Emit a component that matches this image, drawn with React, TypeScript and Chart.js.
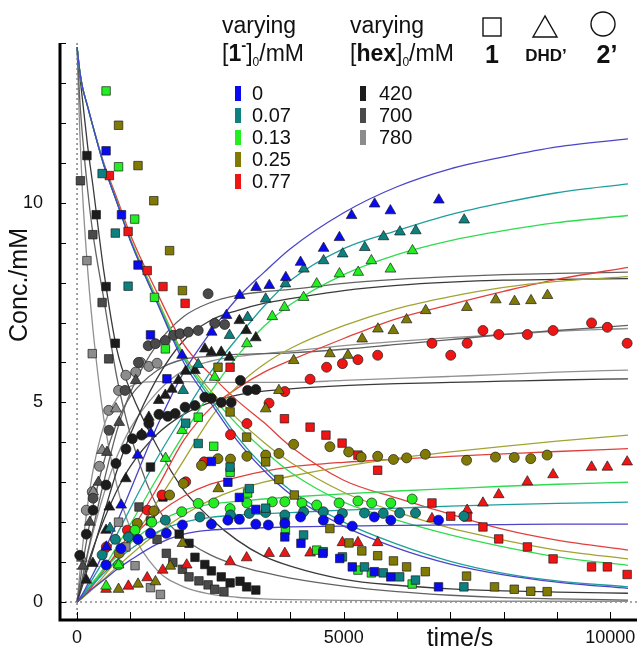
import { useEffect, useRef } from "react";
import { Chart, registerables } from "chart.js";
Chart.register(...registerables);

const FONT = '"Liberation Sans", Arial, Helvetica, sans-serif';

// ---------- axes ----------
const X_MIN = -320;
const X_MAX = 10500;
const Y_MIN = -0.45;
const Y_MAX = 14;
const X_TICKS = [0, 1000, 2000, 3000, 4000, 5000, 6000, 7000, 8000, 9000, 10000];
const X_LABELS = ["0", "5000", "10000"];
const X_LABEL_VALUES = [0, 5000, 10000];
const Y_TICKS = [0, 1, 2, 3, 4, 5, 6, 7, 8, 9, 10, 11, 12, 13, 14];
const Y_LABELS = ["0", "5", "10"];
const Y_LABEL_VALUES = [0, 5, 10];

// ---------- legend ----------
const CONC1_LABELS = ["0", "0.07", "0.13", "0.25", "0.77"];
const HEX_LABELS = ["420", "700", "780"];

// ---------- fitted curves (sampled at CURVE_T) ----------
const CURVE_T = [0, 50, 100, 200, 300, 500, 750, 1000, 1500, 2000, 2500, 3000, 3500, 4000, 5000, 6000, 7000, 8000, 9000, 10330];

const blueDecay = [13.9, 13.3, 12.9, 12.4, 11.9, 10.95, 10.0, 9.05, 7.5, 6.0, 5.0, 4.05, 3.3, 2.7, 1.9, 1.35, 0.95, 0.68, 0.5, 0.34];
const tealDecay = [13.9, 13.3, 12.9, 12.4, 11.9, 10.95, 10.0, 9.05, 7.5, 6.1, 5.1, 4.15, 3.4, 2.8, 2.0, 1.45, 1.02, 0.72, 0.53, 0.38];
const greenDecay = [13.9, 13.3, 12.9, 12.4, 11.9, 10.95, 10.0, 9.07, 7.55, 6.15, 5.2, 4.45, 3.8, 3.25, 2.5, 2.05, 1.68, 1.38, 1.13, 0.92];
const oliveDecay = [13.9, 13.3, 12.9, 12.4, 11.9, 10.97, 10.03, 9.1, 7.6, 6.2, 5.3, 4.6, 4.0, 3.5, 2.75, 2.25, 1.85, 1.55, 1.3, 1.08];
const redDecay = [13.9, 13.3, 12.9, 12.4, 11.9, 11.0, 10.1, 9.2, 7.75, 6.45, 5.7, 5.05, 4.5, 3.9, 3.05, 2.6, 2.2, 1.82, 1.55, 1.3];
const g420Decay = [13.9, 13.2, 12.6, 11.4, 10.4, 8.3, 6.3, 5.3, 3.9, 2.8, 2.1, 1.55, 1.15, 0.9, 0.57, 0.42, 0.33, 0.28, 0.25, 0.22];
const g700Decay = [13.9, 12.6, 11.7, 10.3, 9.2, 7.6, 5.6, 4.2, 2.4, 1.6, 1.18, 0.92, 0.74, 0.6, 0.4, 0.26, 0.17, 0.11, 0.08, 0.05];
const g780Decay = [13.9, 11.8, 10.3, 8.3, 6.8, 4.6, 2.9, 1.85, 0.8, 0.38, 0.2, 0.12, 0.08, 0.06, 0.04, 0.03, 0.02, 0.02, 0.02, 0.02];

const blueDHD = [0, 0.1, 0.2, 0.45, 0.7, 1.25, 2.0, 2.8, 4.4, 5.75, 6.75, 7.6, 8.25, 8.85, 9.75, 10.4, 10.85, 11.15, 11.4, 11.6];
const tealDHD = [0, 0.08, 0.17, 0.38, 0.6, 1.05, 1.7, 2.35, 3.6, 4.7, 5.75, 6.6, 7.4, 8.05, 8.85, 9.3, 9.7, 10.0, 10.25, 10.47];
const greenDHD = [0, 0.07, 0.15, 0.32, 0.5, 0.85, 1.4, 1.95, 3.1, 4.2, 5.25, 6.15, 6.9, 7.45, 8.2, 8.7, 9.05, 9.3, 9.5, 9.68];
const oliveDHD = [0, 0.05, 0.1, 0.22, 0.35, 0.65, 1.05, 1.5, 2.5, 3.55, 4.6, 5.4, 5.95, 6.35, 6.92, 7.35, 7.65, 7.88, 8.03, 8.15];
const redDHD = [0, 0.06, 0.12, 0.26, 0.42, 0.78, 1.25, 1.75, 2.85, 4.05, 4.85, 5.35, 5.75, 6.05, 6.6, 7.1, 7.45, 7.78, 8.08, 8.38];
const g420DHD = [0, 0.2, 0.4, 0.85, 1.3, 2.2, 3.3, 4.2, 5.6, 6.55, 7.05, 7.3, 7.48, 7.6, 7.8, 7.93, 8.01, 8.06, 8.08, 8.1];
const g700DHD = [0, 0.3, 0.6, 1.25, 1.85, 3.0, 4.3, 5.25, 6.45, 7.15, 7.5, 7.68, 7.77, 7.83, 7.98, 8.08, 8.15, 8.2, 8.23, 8.26];
const g780DHD = [0, 0.3, 0.6, 1.2, 1.75, 2.7, 3.65, 4.35, 5.25, 5.8, 6.03, 6.15, 6.22, 6.28, 6.42, 6.53, 6.62, 6.7, 6.78, 6.85];

const blueTwo = [0, 0.06, 0.12, 0.24, 0.35, 0.55, 0.82, 1.05, 1.45, 1.7, 1.8, 1.84, 1.86, 1.88, 1.9, 1.92, 1.93, 1.94, 1.95, 1.95];
const tealTwo = [0, 0.08, 0.16, 0.3, 0.45, 0.72, 1.05, 1.32, 1.75, 2.0, 2.12, 2.18, 2.21, 2.24, 2.3, 2.35, 2.4, 2.44, 2.47, 2.5];
const greenTwo = [0, 0.08, 0.17, 0.33, 0.5, 0.8, 1.15, 1.48, 1.98, 2.3, 2.45, 2.52, 2.58, 2.63, 2.71, 2.78, 2.84, 2.9, 2.95, 3.0];
const oliveTwo = [0, 0.05, 0.1, 0.22, 0.33, 0.57, 0.88, 1.18, 1.72, 2.18, 2.55, 2.82, 3.0, 3.15, 3.4, 3.6, 3.76, 3.9, 4.03, 4.18];
const redTwo = [0, 0.08, 0.16, 0.32, 0.48, 0.8, 1.2, 1.58, 2.2, 2.65, 2.95, 3.12, 3.27, 3.38, 3.5, 3.58, 3.65, 3.71, 3.77, 3.84];
const g420Two = [0, 0.25, 0.5, 0.95, 1.35, 2.05, 2.8, 3.4, 4.2, 4.7, 5.0, 5.18, 5.28, 5.34, 5.42, 5.47, 5.5, 5.53, 5.56, 5.59];
const g700Two = [0, 0.45, 0.9, 1.7, 2.4, 3.5, 4.5, 5.15, 5.8, 6.08, 6.15, 6.2, 6.22, 6.24, 6.33, 6.45, 6.57, 6.7, 6.8, 6.93];
const g780Two = [0, 0.7, 1.35, 2.45, 3.3, 4.4, 5.1, 5.4, 5.52, 5.52, 5.5, 5.5, 5.5, 5.5, 5.55, 5.6, 5.65, 5.7, 5.76, 5.81];

// ---------- measured points [time/s, conc/mM] ----------
// species 1 (squares)
const blueSq = [[544, 11.3], [833, 9.7], [1143, 8.44], [1377, 6.69], [1685, 5.59], [2519, 3.52], [2828, 3.0], [3044, 2.62], [3352, 2.32], [3896, 1.63], [4198, 1.47], [4607, 1.22], [4926, 1.09], [5161, 0.88], [5574, 0.76], [5883, 0.63], [6778, 0.38]];
const tealSq = [[470, 10.73], [717, 9.24], [957, 7.91], [2037, 4.48], [2272, 3.97], [2870, 3.38], [3230, 2.84], [3537, 2.35], [3896, 2.0], [4248, 1.68], [4618, 1.26], [4976, 1.13], [5389, 0.88], [5741, 0.73], [6050, 0.63], [6346, 0.55], [7254, 0.38]];
const greenSq = [[544, 12.8], [778, 10.9], [1081, 9.59], [1452, 7.63], [1655, 6.34], [2272, 4.63], [2563, 3.9], [2870, 3.25], [3198, 2.73], [3907, 1.8], [4494, 1.3], [5267, 0.8], [5519, 0.73], [6284, 0.45]];
const oliveSq = [[778, 11.94], [1143, 10.93], [1439, 10.05], [1735, 8.8], [1976, 7.8], [2643, 5.88], [2870, 4.76], [3180, 4.13], [3537, 3.51], [3785, 3.07], [4074, 2.68], [4741, 1.84], [5100, 1.48], [5340, 1.28], [5637, 1.16], [5933, 1.03], [6180, 0.88], [6531, 0.76], [7304, 0.65], [7828, 0.38], [8198, 0.32], [8507, 0.27], [8815, 0.26]];
const redSq = [[606, 10.68], [957, 9.28], [1315, 8.3], [1611, 7.9], [2026, 7.48], [2870, 5.88], [3889, 4.59], [4370, 4.38], [4667, 4.18], [4970, 3.98], [5267, 3.68], [5637, 3.3], [6655, 2.48], [7007, 2.15], [7315, 2.13], [7611, 1.88], [7907, 1.58], [8444, 1.38], [8926, 1.08], [9648, 0.88], [9944, 0.88], [10315, 0.69]];
const g420Sq = [[185, 11.18], [359, 9.7], [544, 7.9], [717, 6.48], [1377, 3.38], [1611, 2.63], [1915, 1.7], [2099, 1.47], [2211, 1.12], [2396, 0.94], [2519, 0.78], [2704, 0.63], [2870, 0.48], [3056, 0.52], [3180, 0.38], [3352, 0.3]];
const g700Sq = [[63, 10.55], [296, 9.2], [470, 7.5], [593, 6.09], [1161, 2.38], [1377, 2.03], [1500, 1.57], [1674, 1.22], [1796, 0.99], [1976, 0.82], [2099, 0.63], [2285, 0.53], [2457, 0.43], [2581, 0.32], [2754, 0.26]];
const g780Sq = [[185, 8.55], [285, 6.22], [778, 2.0], [915, 1.38], [1087, 0.91], [1377, 0.36], [1563, 0.19]];

// species DHD' (triangles)
const blueTri = [[549, 1.38], [827, 2.43], [1136, 3.68], [1383, 4.22], [1969, 6.18], [2525, 6.76], [2802, 7.18], [3050, 7.68], [3358, 7.88], [3605, 7.93], [3914, 8.13], [4191, 8.51], [4623, 8.86], [4920, 9.13], [5148, 9.68], [5580, 9.97], [5876, 9.8], [6784, 10.07]];
const tealTri = [[617, 1.85], [1990, 5.3], [2272, 5.95], [2859, 6.68], [3198, 7.13], [3537, 7.59], [3907, 7.97], [4253, 8.34], [4623, 8.55], [4981, 8.72], [5395, 8.88], [5747, 9.15], [6055, 9.27], [6352, 9.3], [7259, 9.57]];
const greenTri = [[544, 0.4], [778, 0.93], [1660, 3.6], [1969, 4.3], [2581, 5.63], [3185, 6.47], [3661, 7.15], [3889, 7.38], [4248, 7.63], [4494, 7.97], [4920, 8.22], [5272, 8.26], [5519, 8.55], [5877, 8.34], [6290, 8.8]];
const oliveTri = [[778, 0.32], [1143, 0.45], [1470, 0.51], [1748, 0.9], [1976, 1.47], [2648, 2.84], [3537, 4.84], [3785, 5.3], [4062, 6.05], [4741, 6.22], [5080, 6.18], [5346, 6.59], [5642, 6.84], [5932, 6.8], [6179, 7.07], [6537, 7.3], [7309, 7.38], [7852, 7.57], [8204, 7.53], [8512, 7.55], [8821, 7.68]];
const redTri = [[544, 0.32], [963, 0.4], [1315, 0.61], [1606, 0.8], [2056, 0.93], [2870, 1.01], [3180, 1.11], [3600, 1.22], [3896, 1.22], [4370, 1.23], [4976, 1.49], [5267, 1.49], [5637, 1.49], [6655, 2.09], [7315, 2.3], [7611, 2.48], [7907, 2.69], [8444, 3.01], [8926, 3.19], [9648, 3.38], [9944, 3.38], [10315, 3.51]];
const g420Tri = [[173, 0.55], [296, 0.97], [544, 1.8], [605, 2.38], [915, 3.09], [1213, 4.2], [1346, 4.63], [1531, 5.05], [1655, 5.18], [1778, 5.33], [1902, 5.55], [2037, 5.78], [2211, 5.8], [2396, 6.34], [2519, 6.25], [2704, 6.26], [2859, 6.13], [3044, 7.05], [3172, 6.8], [3352, 6.62]];
const g700Tri = [[110, 0.9], [240, 2.0], [400, 3.0], [560, 3.75], [790, 4.5], [1100, 5.55]];
const g780Tri = [[90, 1.1], [302, 2.76], [470, 3.8], [729, 4.84]];

// species 2' (circles)
const blueCirc = [[544, 0.93], [822, 1.34], [1143, 1.57], [1377, 1.72], [1674, 1.72], [1976, 1.93], [2519, 1.95], [2828, 2.05], [3044, 2.07], [3352, 1.95], [3587, 1.93], [3896, 1.97], [4191, 2.13], [4618, 2.05], [4914, 2.07], [5161, 1.9], [5574, 2.13], [5883, 2.05], [6778, 2.05]];
const tealCirc = [[470, 1.18], [717, 1.57], [963, 1.63], [1655, 2.05], [2303, 2.13], [2877, 2.18], [3230, 2.22], [3537, 2.24], [3896, 2.18], [4248, 2.26], [4618, 2.26], [4976, 2.22], [5389, 2.23], [5741, 2.22], [6050, 2.23], [6346, 2.23], [7254, 2.15]];
const greenCirc = [[778, 0.93], [1087, 1.8], [1400, 2.0], [1963, 2.26], [2272, 2.47], [2563, 2.48], [2870, 2.34], [3185, 2.48], [3661, 2.51], [3896, 2.51], [4217, 2.48], [4494, 2.43], [4914, 2.48], [5267, 2.53], [5525, 2.48], [5883, 2.48], [6284, 2.58]];
const oliveCirc = [[790, 1.22], [1130, 1.97], [1439, 2.28], [1735, 2.68], [1994, 2.97], [2333, 3.42], [2642, 3.59], [2877, 3.58], [3185, 3.65], [3537, 3.68], [3785, 3.72], [4062, 3.95], [4741, 3.89], [5093, 3.76], [5328, 3.63], [5637, 3.65], [5933, 3.57], [6180, 3.61], [6531, 3.7], [7304, 3.55], [7846, 3.63], [8198, 3.62], [8507, 3.59], [8815, 3.68]];
const redCirc = [[549, 1.38], [944, 1.8], [1320, 2.3], [1593, 2.68], [2037, 3.01], [2383, 3.51], [2877, 4.19], [3185, 4.47], [3600, 4.98], [3896, 5.27], [4370, 5.58], [4679, 5.88], [4976, 5.97], [5267, 6.07], [5637, 6.18], [6655, 6.48], [7007, 6.18], [7315, 6.48], [7611, 6.8], [7907, 6.7], [8444, 6.7], [8926, 6.8], [9648, 6.99], [9944, 6.88], [10315, 6.48]];
const g420Circ = [[50, 1.17], [173, 1.7], [300, 2.3], [544, 2.93], [729, 3.47], [917, 3.83], [1037, 4.09], [1211, 4.18], [1346, 4.47], [1535, 4.7], [1700, 4.65], [1840, 4.72], [2026, 4.88], [2211, 4.92], [2396, 5.13], [2519, 5.1], [2704, 5.0], [2890, 5.0], [3063, 5.55], [3198, 5.3], [3352, 5.32]];
const g700Circ = [[300, 2.6], [600, 4.3], [900, 5.3], [1150, 6.0], [1334, 6.42], [1470, 6.47], [1655, 6.55], [1809, 6.68], [1932, 6.72], [2087, 6.76], [2272, 6.8], [2457, 7.72], [2581, 6.98], [2767, 6.95]];
const g780Circ = [[173, 2.3], [285, 2.76], [420, 3.4], [593, 4.8], [778, 5.3], [915, 5.68], [1100, 5.76], [1192, 6.0], [1346, 5.9], [1500, 5.98]];

// ---------- groups (built from the arrays above) ----------
const GROUPS = [
  { fill: "#0a0af0", line: "#4a44c8", sq: blueSq, tri: blueTri, circ: blueCirc, c1: blueDecay, dhd: blueDHD, two: blueTwo },
  { fill: "#0d8080", line: "#1f9e9e", sq: tealSq, tri: tealTri, circ: tealCirc, c1: tealDecay, dhd: tealDHD, two: tealTwo },
  { fill: "#22ee22", line: "#2fdc50", sq: greenSq, tri: greenTri, circ: greenCirc, c1: greenDecay, dhd: greenDHD, two: greenTwo },
  { fill: "#807a05", line: "#a3a332", sq: oliveSq, tri: oliveTri, circ: oliveCirc, c1: oliveDecay, dhd: oliveDHD, two: oliveTwo },
  { fill: "#f01515", line: "#e0403c", sq: redSq, tri: redTri, circ: redCirc, c1: redDecay, dhd: redDHD, two: redTwo },
  { fill: "#1c1c1c", line: "#3a3a3a", sq: g420Sq, tri: g420Tri, circ: g420Circ, c1: g420Decay, dhd: g420DHD, two: g420Two },
  { fill: "#4a4a4a", line: "#626262", sq: g700Sq, tri: g700Tri, circ: g700Circ, c1: g700Decay, dhd: g700DHD, two: g700Two },
  { fill: "#8c8c8c", line: "#909090", sq: g780Sq, tri: g780Tri, circ: g780Circ, c1: g780Decay, dhd: g780DHD, two: g780Two },
];

function curveData(vals: number[]) {
  return CURVE_T.map((t, i) => ({ x: t, y: vals[i] }));
}
function ptData(arr: number[][]) {
  return arr.map(([x, y]) => ({ x, y }));
}

function buildDatasets() {
  const ds: any[] = [];
  for (const g of GROUPS) {
    for (const vals of [g.c1, g.dhd, g.two]) {
      ds.push({
        type: "line",
        data: curveData(vals),
        borderColor: g.line,
        borderWidth: 1.3,
        pointRadius: 0,
        fill: false,
        cubicInterpolationMode: "monotone",
        order: 2,
      });
    }
  }
  for (const g of GROUPS) {
    const common = {
      type: "scatter",
      backgroundColor: g.fill,
      borderColor: "rgba(25,25,25,0.85)",
      borderWidth: 0.8,
      order: 1,
    };
    ds.push({ ...common, data: ptData(g.sq), pointStyle: "rect", pointRadius: 6 });
    ds.push({ ...common, data: ptData(g.tri), pointStyle: "triangle", pointRadius: 6.2 });
    ds.push({ ...common, data: ptData(g.circ), pointStyle: "circle", pointRadius: 5 });
  }
  return ds;
}

type Run = { t: string; s?: number; b?: boolean; dy?: number };
function drawRuns(ctx: CanvasRenderingContext2D, runs: Run[], x: number, y: number) {
  let cx = x;
  for (const r of runs) {
    ctx.font = `${r.b ? "bold " : ""}${r.s ?? 23}px ${FONT}`;
    ctx.fillText(r.t, cx, y + (r.dy ?? 0));
    cx += ctx.measureText(r.t).width;
  }
}

const decor = {
  id: "decor",
  beforeDatasetsDraw(chart: any) {
    const { ctx, chartArea, scales } = chart;
    const x0 = scales.x.getPixelForValue(0);
    const y0 = scales.y.getPixelForValue(0);
    ctx.save();
    ctx.strokeStyle = "#8a8a8a";
    ctx.lineWidth = 1.6;
    ctx.setLineDash([2, 3]);
    ctx.beginPath();
    ctx.moveTo(x0, chartArea.top);
    ctx.lineTo(x0, chartArea.bottom);
    ctx.moveTo(chartArea.left, y0);
    ctx.lineTo(chartArea.right, y0);
    ctx.stroke();
    ctx.restore();
  },
  afterDraw(chart: any) {
    const { ctx, chartArea, scales } = chart;
    const { left, top, right, bottom } = chartArea;
    ctx.save();
    // axis lines
    ctx.strokeStyle = "#000";
    ctx.lineWidth = 3;
    ctx.beginPath();
    ctx.moveTo(left, top);
    ctx.lineTo(left, bottom + 1.5);
    ctx.moveTo(left - 1.5, bottom);
    ctx.lineTo(right, bottom);
    ctx.stroke();
    // inward ticks
    ctx.lineWidth = 1;
    ctx.beginPath();
    for (const v of Y_TICKS) {
      const py = Math.round(scales.y.getPixelForValue(v)) + 0.5;
      ctx.moveTo(left, py);
      ctx.lineTo(left + 6, py);
    }
    for (const v of X_TICKS) {
      const px = Math.round(scales.x.getPixelForValue(v)) + 0.5;
      ctx.moveTo(px, bottom);
      ctx.lineTo(px, bottom - 8);
    }
    ctx.stroke();
    // tick labels
    ctx.fillStyle = "#111";
    ctx.font = `18px ${FONT}`;
    ctx.textAlign = "right";
    ctx.textBaseline = "middle";
    Y_LABEL_VALUES.forEach((v, i) => ctx.fillText(Y_LABELS[i], 43, scales.y.getPixelForValue(v)));
    ctx.textAlign = "center";
    ctx.textBaseline = "alphabetic";
    X_LABEL_VALUES.forEach((v, i) => ctx.fillText(X_LABELS[i], scales.x.getPixelForValue(v), 643));
    // axis titles
    ctx.font = `25px ${FONT}`;
    ctx.fillText("time/s", 460, 646);
    ctx.save();
    ctx.translate(27, 285);
    ctx.rotate(-Math.PI / 2);
    ctx.fillText("Conc./mM", 0, 0);
    ctx.restore();

    // legend
    ctx.textAlign = "left";
    ctx.fillStyle = "#111";
    drawRuns(ctx, [{ t: "varying" }], 222, 33);
    drawRuns(ctx, [{ t: "[" }, { t: "1", b: true }, { t: "-", s: 15, b: true, dy: -11 }, { t: "]" }, { t: "0", s: 12, dy: 5 }, { t: "/mM" }], 222, 61);
    drawRuns(ctx, [{ t: "varying" }], 350, 33);
    drawRuns(ctx, [{ t: "[" }, { t: "hex", b: true }, { t: "]" }, { t: "0", s: 12, dy: 5 }, { t: "/mM" }], 350, 61);

    ctx.strokeStyle = "#111";
    ctx.lineWidth = 1.4;
    ctx.strokeRect(483, 18, 18, 18);
    ctx.beginPath();
    ctx.moveTo(545, 16);
    ctx.lineTo(533, 37);
    ctx.lineTo(557, 37);
    ctx.closePath();
    ctx.stroke();
    ctx.beginPath();
    ctx.arc(603, 24, 12, 0, Math.PI * 2);
    ctx.stroke();
    ctx.textAlign = "center";
    ctx.font = `bold 25px ${FONT}`;
    ctx.fillText("1", 492, 63);
    ctx.fillText("2\u2019", 607, 63);
    ctx.font = `bold 17px ${FONT}`;
    ctx.fillText("DHD\u2019", 546, 61);

    ctx.textAlign = "left";
    ctx.font = `20px ${FONT}`;
    const rowY = [93, 115, 137, 159, 181];
    CONC1_LABELS.forEach((lab, i) => {
      ctx.fillStyle = GROUPS[i].fill;
      ctx.fillRect(235, rowY[i] - 7, 6, 15);
      ctx.fillStyle = "#111";
      ctx.fillText(lab, 252, rowY[i] + 7);
    });
    HEX_LABELS.forEach((lab, i) => {
      ctx.fillStyle = GROUPS[5 + i].fill;
      ctx.fillRect(360, rowY[i] - 7, 6, 15);
      ctx.fillStyle = "#111";
      ctx.fillText(lab, 379, rowY[i] + 7);
    });
    ctx.restore();
  },
};

export default function App() {
  const ref = useRef<HTMLCanvasElement>(null);
  useEffect(() => {
    const chart = new Chart(ref.current as HTMLCanvasElement, {
      type: "scatter",
      data: { datasets: buildDatasets() },
      options: {
        animation: false,
        responsive: false,
        devicePixelRatio: 1,
        layout: { padding: { left: 60, right: 0, top: 43, bottom: 30 } },
        scales: {
          x: { type: "linear", min: X_MIN, max: X_MAX, display: false },
          y: { type: "linear", min: Y_MIN, max: Y_MAX, display: false },
        },
        plugins: { legend: { display: false }, tooltip: { enabled: false } },
      } as any,
      plugins: [decor as any],
    });
    return () => chart.destroy();
  }, []);
  return (
    <div style={{ position: "absolute", left: 0, top: 0, width: 644, height: 650, background: "#fff" }}>
      <canvas ref={ref} width={644} height={650} style={{ display: "block" }} />
    </div>
  );
}
